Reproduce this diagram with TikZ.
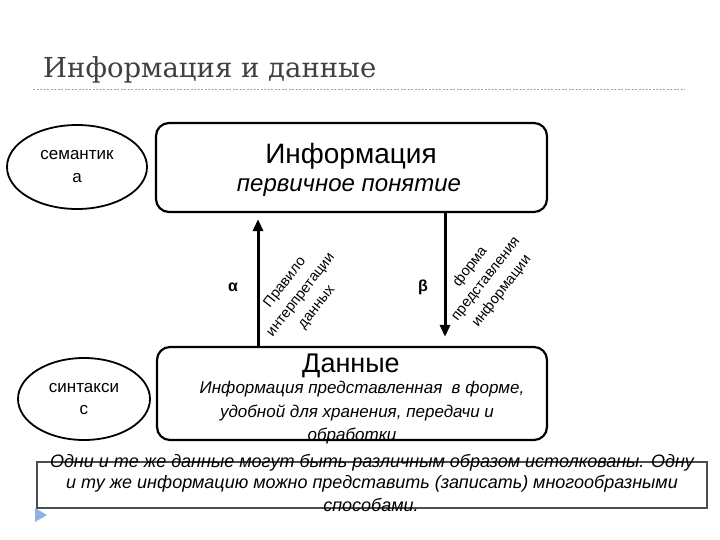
\documentclass[tikz,border=0pt]{standalone}
\usepackage{fontspec}
\setmainfont{Liberation Sans}
\newfontfamily\titlefont{DejaVu Serif}
\usepackage{xcolor}
\usetikzlibrary{arrows.meta,positioning,shapes.geometric}
\definecolor{titlegray}{HTML}{404040}
\definecolor{rulegray}{HTML}{A6A6A6}
\definecolor{framegray}{HTML}{4D4D57}
\definecolor{markblue}{HTML}{8DB3E2}

\begin{document}
\begin{tikzpicture}[x=1pt, y=-1pt,
  blk/.style={draw, line width=2.2pt, rounded corners=13pt, inner sep=0pt},
  oval/.style={draw, ellipse, line width=1.8pt, inner sep=0pt, align=center},
  txt/.style={anchor=base, inner sep=0pt},
  rot/.style={rotate=52, align=center, inner sep=0pt, font=\fontsize{14.5}{20}\selectfont},
  arr/.style={-{Triangle[length=12pt, width=10pt]}, line width=3pt}
]
\useasboundingbox (0,0) rectangle (720,540);
\node[anchor=base west, inner sep=0pt, text=titlegray, font=\titlefont\fontsize{27.5}{30}\selectfont] (title) at (43,78) {Информация и данные};
\draw[rulegray, line width=1pt, dash pattern=on 2pt off 1.5pt] (33,90) -- (685,90);

\node[blk, minimum width=391pt, minimum height=89pt] (info) at (351.5,167.5) {};
\node[blk, minimum width=390pt, minimum height=93pt] (data) at (352,393.5) {};
\node[oval, minimum width=140pt, minimum height=84pt, font=\fontsize{17}{23}\selectfont] (sem) at (77,167) {семантик\\а};
\node[oval, minimum width=132pt, minimum height=82pt, font=\fontsize{17}{22}\selectfont] (syn) at (84,399) {синтакси\\с};

\node[txt, font=\fontsize{28}{30}\selectfont] (infoname) at (351,164) {Информация};
\node[txt, font=\itshape\fontsize{24}{26}\selectfont] (infonote) at (349,192) {первичное понятие};
\node[txt, font=\fontsize{27}{30}\selectfont] (dataname) at (351,372) {Данные};
\node[txt, font=\itshape\fontsize{17}{20}\selectfont] (data1) at (362,393) {Информация представленная \ в форме,};
\node[txt, font=\itshape\fontsize{17}{20}\selectfont] (data2) at (357,417) {удобной для хранения, передачи и};
\node[txt, font=\itshape\fontsize{17}{20}\selectfont] (data3) at (352,440) {обработки};

\draw[arr] ([xshift=-94pt]data.north) -- ([xshift=-93.5pt,yshift=-6pt]info.south);
\draw[arr] ([xshift=93.5pt]info.south) -- ([xshift=93pt,yshift=9pt]data.north);
\node[font=\bfseries\fontsize{16}{18}\selectfont, inner sep=0pt] (alpha) at (233,287) {α};
\node[font=\bfseries\fontsize{16}{18}\selectfont, inner sep=0pt] (beta) at (423,287) {β};
\node[rot] (rule) at (301,295) {Правило\\интерпретации\\данных};
\node[rot] (form) at (486,279) {форма\\представления\\информации};

\node[draw=framegray, line width=2pt, minimum width=670pt, minimum height=46pt, inner sep=0pt] (note) at (372,485) {};
\node[txt, font=\itshape\fontsize{18}{22}\selectfont] (note1) at (372,467) {Одни и те же данные могут быть различным образом истолкованы. Одну};
\node[txt, font=\itshape\fontsize{18}{22}\selectfont] (note2) at (372,488) {и ту же информацию можно представить (записать) многообразными};
\node[txt, font=\itshape\fontsize{18}{22}\selectfont] (note3) at (371,511) {способами.};
\fill[markblue] (35,508) -- (47,515) -- (35,522) -- cycle;
\end{tikzpicture}
\end{document}
